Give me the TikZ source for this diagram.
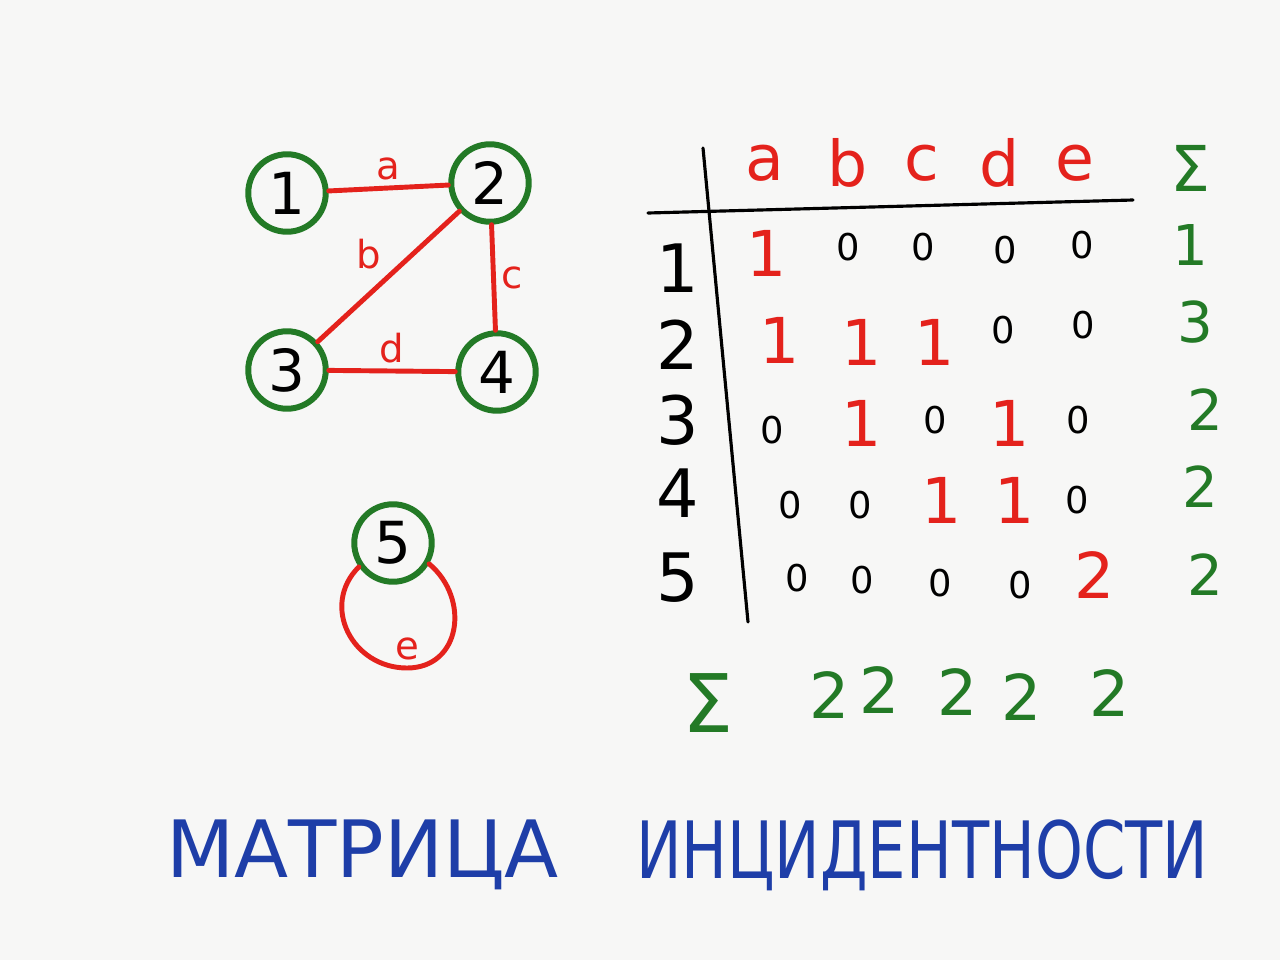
\documentclass[tikz,border=0pt]{standalone}
\usepackage{fontspec}
\setmainfont{DejaVu Sans}
\definecolor{vgreen}{RGB}{35,122,38}
\definecolor{ered}{RGB}{228,34,28}
\definecolor{tblue}{RGB}{30,62,168}
\definecolor{paper}{RGB}{247,247,246}
\tikzset{
  vertex/.style={circle,draw=vgreen,line width=3.4pt,minimum size=1.55cm,inner sep=0pt,font=\fontsize{33}{36}\selectfont},
  link/.style={draw=ered,line width=2.8pt,line cap=round},
  elabel/.style={text=ered,font=\fontsize{22}{24}\selectfont,inner sep=3pt},
  colhead/.style={text=ered,font=\fontsize{36}{40}\selectfont},
  rowlab/.style={font=\fontsize{38}{42}\selectfont},
  inc/.style={text=ered,font=\fontsize{36}{40}\selectfont},
  zero/.style={font=\fontsize{21}{24}\selectfont},
  total/.style={text=vgreen,font=\fontsize{32}{36}\selectfont},
  bigtotal/.style={text=vgreen,font=\fontsize{36}{40}\selectfont},
  rule/.style={line width=1.8pt,line cap=round},
  title/.style={text=tblue,font=\fontsize{45}{50}\selectfont,anchor=west}
}
\begin{document}
\begin{tikzpicture}[x=0.02cm,y=-0.02cm]
\fill[paper] (0,0) rectangle (1280,960);
\useasboundingbox (0,0) rectangle (1280,960);

\node[vertex] (n1) at (287,193) {1};
\node[vertex] (n2) at (490,183) {2};
\node[vertex] (n3) at (287,370) {3};
\node[vertex] (n4) at (497,372) {4};
\node[vertex] (n5) at (393,543) {5};
\coordinate (ebot) at (407,668);
\draw[link] (n1) -- node[elabel,above] {a} (n2);
\draw[link] (n2) -- node[elabel,above left] {b} (n3);
\draw[link] (n2) -- node[elabel,right] {c} (n4);
\draw[link] (n3) -- node[elabel,above] {d} (n4);
\draw[link] (n5.215) to[out=225,in=180,looseness=1.25] (ebot)
  node[elabel,above] {e} to[out=0,in=-40,looseness=1.3] (n5.-30);

\coordinate (vtop) at (703,148);
\coordinate (vbot) at (748,622);
\coordinate (hleft) at (648,213);
\coordinate (hright) at (1133,200);
\draw[rule] (vtop) -- (vbot);
\draw[rule] (hleft) -- (hright);
\foreach \c/\x in {a/765,b/848,c/922,d/1000,e/1075}
  \node[colhead] (h\c) at (\x,163) {\c};
\node[bigtotal] (hsum) at (1190,168) {Σ};
\foreach \r/\y in {1/268,2/345,3/420,4/493,5/578}
  \node[rowlab] (r\r) at (678,\y) {\r};
\foreach \n/\x/\y/\s/\v in {
  11/767/253/inc/1, 12/848/247/zero/0, 13/923/247/zero/0, 14/1005/250/zero/0, 15/1082/245/zero/0,
  21/780/340/inc/1, 22/862/342/inc/1, 23/935/342/inc/1, 24/1003/330/zero/0, 25/1083/325/zero/0,
  31/772/430/zero/0, 32/862/423/inc/1, 33/935/420/zero/0, 34/1010/423/inc/1, 35/1078/420/zero/0,
  41/790/505/zero/0, 42/860/505/zero/0, 43/942/500/inc/1, 44/1015/500/inc/1, 45/1077/500/zero/0,
  51/797/578/zero/0, 52/862/580/zero/0, 53/940/583/zero/0, 54/1020/585/zero/0, 55/1095/575/inc/2}
  \node[\s] (c\n) at (\x,\y) {\v};
\foreach \r/\x/\y/\v in {1/1190/245/1,2/1195/322/3,3/1205/410/2,4/1200/487/2,5/1205/575/2}
  \node[total] (s\r) at (\x,\y) {\v};

\node[bigtotal,font=\fontsize{46}{50}\selectfont] (bsum) at (708,703) {Σ};
\foreach \c/\x/\y in {a/830/695,b/880/690,c/958/692,d/1022/697,e/1110/693}
  \node[bigtotal] (t\c) at (\x,\y) {2};

\node[title] (word1) at (160,855) {МАТРИЦА};
\node[title] (word2) at (630,855) {\scalebox{0.77}[1]{ИНЦИДЕНТНОСТИ}};
\end{tikzpicture}
\end{document}
